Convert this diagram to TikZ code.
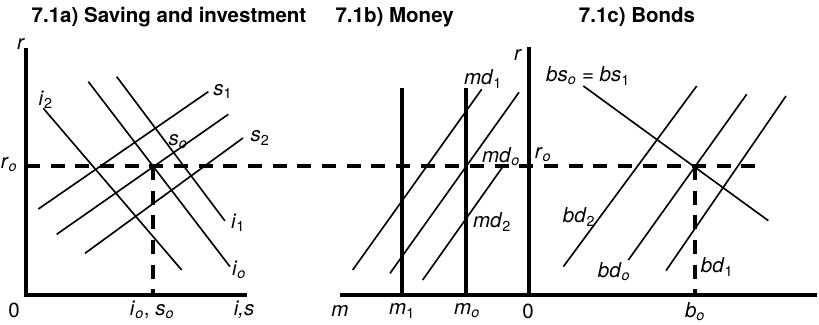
\documentclass[tikz,border=0pt]{standalone}
\usepackage{fontspec}
\setmainfont{TeX Gyre Heros}
\usetikzlibrary{positioning}
\newcommand{\vsub}[2]{\textit{#1}\textsubscript{#2}}
\newcommand{\vo}[1]{\vsub{#1}{\textit{o}}}

\begin{document}
\begin{tikzpicture}[
  every node/.style={font=\fontsize{17.5}{20}\selectfont, inner sep=0pt},
  axisline/.style={line width=3.3pt},
  curveline/.style={line width=1.4pt},
  refline/.style={line width=3.3pt, dash pattern=on 0.42cm off 0.32cm},
  ttl/.style={font=\fontsize{17.5}{20}\selectfont\bfseries}
]
  \useasboundingbox (-0.78,-0.87) rectangle (23.79,8.85);

  % titles
  \node[ttl] (ta) at (4.29,8.34)  {7.1a) Saving and investment};
  \node[ttl] (tb) at (11.06,8.34) {7.1b) Money};
  \node[ttl] (tc) at (18.33,8.34) {7.1c) Bonds};

  % r_o and the equilibrium levels
  \draw[refline] (0,3.87) -- (22.11,3.87);
  \draw[refline] (3.81,3.87) -- (3.81,0);
  \draw[refline] (20.07,3.87) -- (20.07,0);

  % 7.1a
  \draw[axisline] (0,7.41) -- (0,0) -- (6.63,0);
  \draw[curveline] (0.52,5.60) -- (4.67,0.75);
  \draw[curveline] (1.87,6.40) -- (6.12,0.85);
  \draw[curveline] (2.72,6.55) -- (5.97,2.22);
  \draw[curveline] (0.37,2.58) -- (5.47,6.10);
  \draw[curveline] (0.92,1.82) -- (6.07,5.42);
  \draw[curveline] (1.77,1.25) -- (6.51,4.71);

  \node (ra)  at (-0.15,7.53) {\textit{r}};
  \node (ro)  at (-0.51,3.90) {\vo{r}};
  \node (i2)  at (0.59,5.85)  {\vsub{i}{2}};
  \node (s1)  at (5.90,6.10)  {\vsub{s}{1}};
  \node (so)  at (4.56,4.59)  {\vo{s}};
  \node (s2)  at (7.02,4.71)  {\vsub{s}{2}};
  \node (i1)  at (6.36,2.16)  {\vsub{i}{1}};
  \node (io)  at (6.39,0.75)  {\vo{i}};
  \node (za)  at (-0.36,-0.45) {0};
  \node (eqa) at (3.78,-0.45) {\vo{i}, \vo{s}};
  \node (is)  at (6.54,-0.45) {\textit{i,s}};

  % 7.1b
  \draw[axisline] (9.42,0) -- (23.72,0);
  \draw[axisline] (15.09,7.45) -- (15.09,0);
  \draw[axisline] (11.29,6.20) -- (11.29,0);
  \draw[axisline] (13.20,6.20) -- (13.20,0);
  \draw[curveline] (9.80,0.75) -- (13.67,6.17);
  \draw[curveline] (10.92,0.65) -- (14.79,6.08);
  \draw[curveline] (11.90,0.45) -- (14.34,3.90);

  \node (rb)  at (14.76,7.20) {\textit{r}};
  \node (md1) at (13.71,6.48) {\vsub{md}{1}};
  \node (mdo) at (14.25,4.14) {\vo{md}};
  \node (md2) at (13.98,2.19) {\vsub{md}{2}};
  \node (m)   at (9.42,-0.48)  {\textit{m}};
  \node (m1)  at (11.28,-0.48) {\vsub{m}{1}};
  \node (mo)  at (13.23,-0.48) {\vo{m}};
  \node (zb)  at (15.06,-0.48) {0};

  % 7.1c
  \draw[curveline] (16.72,6.27) -- (22.27,2.23);
  \draw[curveline] (16.12,0.85) -- (20.12,6.27);
  \draw[curveline] (18.07,1.05) -- (21.62,6.02);
  \draw[curveline] (19.20,0.73) -- (22.80,5.97);

  \node (rc)  at (15.51,4.20) {\vo{r}};
  \node (bs)  at (16.86,6.57) {\vo{bs} = \vsub{bs}{1}};
  \node (bd2) at (16.59,2.34) {\vsub{bd}{2}};
  \node (bdo) at (17.64,0.69) {\vo{bd}};
  \node (bd1) at (20.73,0.84) {\vsub{bd}{1}};
  \node (bo)  at (20.07,-0.51) {\vo{b}};
\end{tikzpicture}
\end{document}
